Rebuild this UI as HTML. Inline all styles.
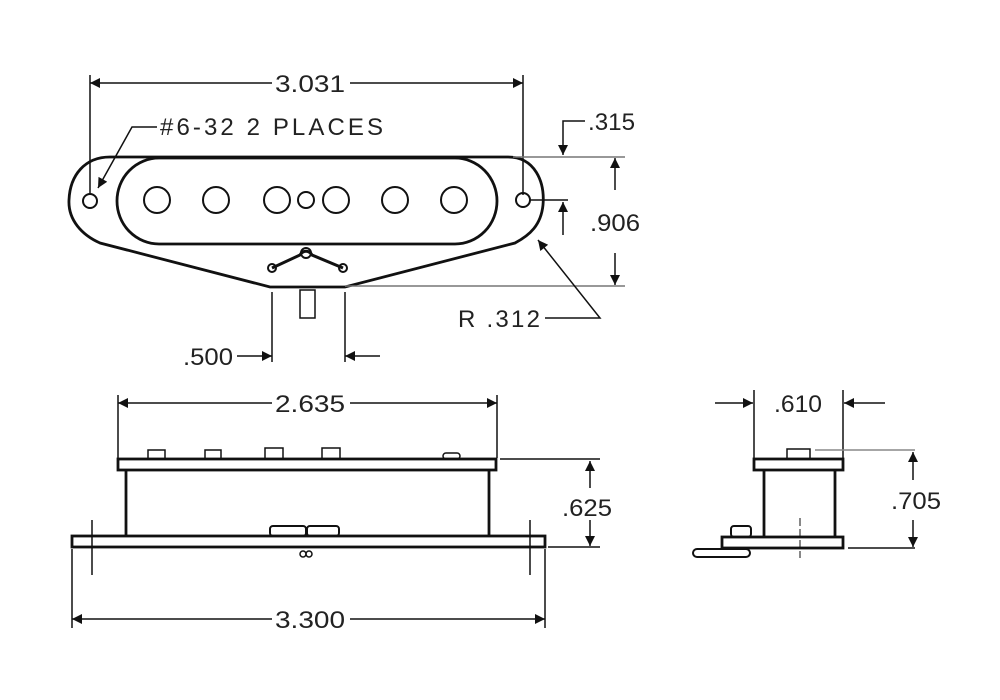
<!DOCTYPE html>
<html><head><style>
html,body{margin:0;padding:0;background:#fff;}
svg{display:block;}
text{font-family:"Liberation Sans",sans-serif;font-size:24px;fill:#222;}
</style></head><body>
<svg width="1000" height="700" viewBox="0 0 1000 700" xmlns="http://www.w3.org/2000/svg">
<defs>
<marker id="b" viewBox="0 0 10 10" refX="10" refY="5" markerWidth="26" markerHeight="10" markerUnits="userSpaceOnUse" orient="auto"><path d="M0,0 L10,5 L0,10 Z" fill="#111"/></marker>
</defs>
<g stroke="#111" fill="none" stroke-width="2">
<!-- TOP VIEW -->
<path d="M110,157 L508,157 C535,157 545,182 543,205 C541,225 530,235 515,243 L345,287 L270,287 L100,243 C82,235 68,220 69,200 C70,175 85,157 110,157 Z" stroke-width="2.8"/>
<rect x="117" y="158" width="380" height="86" rx="42" ry="43" stroke-width="2.8"/>
<circle cx="157" cy="200" r="13"/><circle cx="216" cy="200" r="13"/><circle cx="277" cy="200" r="13"/>
<circle cx="306" cy="200" r="8"/><circle cx="336" cy="200" r="13"/><circle cx="395" cy="200" r="13"/><circle cx="454" cy="200" r="13"/>
<circle cx="90" cy="201" r="7"/><circle cx="523" cy="200" r="7"/>
<path d="M272,268 L300,255 C303,250 309,250 312,255 L343,268" stroke-width="3"/>
<circle cx="306" cy="253" r="5"/><circle cx="272" cy="268" r="4"/><circle cx="343" cy="268" r="4"/>
<rect x="300" y="290" width="15" height="28" stroke-width="1.5"/>
<line x1="90" y1="75" x2="90" y2="195" stroke-width="1.5"/>
<line x1="523" y1="75" x2="523" y2="195" stroke-width="1.5"/>
<line x1="272" y1="83" x2="90" y2="83" stroke-width="1.5" marker-end="url(#b)"/>
<line x1="350" y1="83" x2="523" y2="83" stroke-width="1.5" marker-end="url(#b)"/>
<polyline points="157,127 132,127 98,188" stroke-width="1.5" marker-end="url(#b)"/>
<line x1="513" y1="157" x2="625" y2="157" stroke="#777" stroke-width="1.5"/>
<line x1="530" y1="200" x2="568" y2="200" stroke-width="1.5"/>
<line x1="345" y1="286" x2="625" y2="286" stroke="#777" stroke-width="1.5"/>
<polyline points="585,121 563,121 563,155" stroke-width="1.5" marker-end="url(#b)"/>
<line x1="615" y1="190" x2="615" y2="158" stroke-width="1.5" marker-end="url(#b)"/>
<line x1="615" y1="253" x2="615" y2="285" stroke-width="1.5" marker-end="url(#b)"/>
<line x1="563" y1="235" x2="563" y2="202" stroke-width="1.5" marker-end="url(#b)"/>
<polyline points="545,318 600,318 538,240" stroke-width="1.5" marker-end="url(#b)"/>
<line x1="272" y1="292" x2="272" y2="362" stroke-width="1.5"/>
<line x1="345" y1="292" x2="345" y2="362" stroke-width="1.5"/>
<line x1="237" y1="356" x2="272" y2="356" stroke-width="1.5" marker-end="url(#b)"/>
<line x1="380" y1="356" x2="345" y2="356" stroke-width="1.5" marker-end="url(#b)"/>

<!-- FRONT VIEW -->
<line x1="118" y1="395" x2="118" y2="458" stroke-width="1.5"/>
<line x1="497" y1="395" x2="497" y2="458" stroke-width="1.5"/>
<line x1="272" y1="403" x2="118" y2="403" stroke-width="1.5" marker-end="url(#b)"/>
<line x1="350" y1="403" x2="497" y2="403" stroke-width="1.5" marker-end="url(#b)"/>
<rect x="118" y="459" width="378" height="11" stroke-width="2.8"/>
<rect x="148" y="450" width="17" height="9" stroke-width="1.5"/>
<rect x="205" y="450" width="16" height="9" stroke-width="1.5"/>
<rect x="265" y="448" width="18" height="11" stroke-width="1.5"/>
<rect x="322" y="448" width="18" height="11" stroke-width="1.5"/>
<rect x="443" y="453" width="17" height="6" rx="3" stroke-width="1.5"/>
<line x1="126" y1="470" x2="126" y2="536" stroke-width="2.8"/>
<line x1="489" y1="470" x2="489" y2="536" stroke-width="2.8"/>
<rect x="72" y="536" width="473" height="11" stroke-width="2.8"/>
<rect x="270" y="526" width="36" height="10" rx="3" stroke-width="2"/>
<rect x="307" y="526" width="32" height="10" rx="3" stroke-width="2"/>
<circle cx="303" cy="554" r="3" stroke-width="1.5"/><circle cx="309" cy="554" r="3" stroke-width="1.5"/>
<line x1="92" y1="520" x2="92" y2="575" stroke-width="1.5"/>
<line x1="530" y1="520" x2="530" y2="575" stroke-width="1.5"/>
<line x1="500" y1="459" x2="600" y2="459" stroke-width="1.5"/>
<line x1="548" y1="547" x2="600" y2="547" stroke-width="1.5"/>
<line x1="590" y1="488" x2="590" y2="461" stroke-width="1.5" marker-end="url(#b)"/>
<line x1="590" y1="520" x2="590" y2="546" stroke-width="1.5" marker-end="url(#b)"/>
<line x1="72" y1="549" x2="72" y2="628" stroke-width="1.5"/>
<line x1="545" y1="549" x2="545" y2="628" stroke-width="1.5"/>
<line x1="272" y1="619" x2="72" y2="619" stroke-width="1.5" marker-end="url(#b)"/>
<line x1="350" y1="619" x2="545" y2="619" stroke-width="1.5" marker-end="url(#b)"/>

<!-- SIDE VIEW -->
<line x1="754" y1="390" x2="754" y2="458" stroke-width="1.5"/>
<line x1="843" y1="390" x2="843" y2="458" stroke-width="1.5"/>
<line x1="715" y1="403" x2="753" y2="403" stroke-width="1.5" marker-end="url(#b)"/>
<line x1="885" y1="403" x2="844" y2="403" stroke-width="1.5" marker-end="url(#b)"/>
<rect x="754" y="459" width="89" height="11" stroke-width="2.8"/>
<rect x="787" y="449" width="23" height="10" stroke-width="1.5"/>
<line x1="764" y1="470" x2="764" y2="537" stroke-width="2.8"/>
<line x1="835" y1="470" x2="835" y2="537" stroke-width="2.8"/>
<rect x="722" y="537" width="121" height="11" stroke-width="2.8"/>
<rect x="731" y="526" width="20" height="11" rx="3" stroke-width="2"/>
<rect x="693" y="549" width="57" height="8" rx="4" stroke-width="2"/>
<line x1="800" y1="518" x2="800" y2="558" stroke-width="1" stroke-dasharray="8,3"/>
<line x1="815" y1="450" x2="915" y2="450" stroke="#888" stroke-width="1.5"/>
<line x1="848" y1="548" x2="915" y2="548" stroke-width="1.5"/>
<line x1="913" y1="480" x2="913" y2="452" stroke-width="1.5" marker-end="url(#b)"/>
<line x1="913" y1="520" x2="913" y2="547" stroke-width="1.5" marker-end="url(#b)"/>
</g>
<text x="275" y="92" textLength="70" lengthAdjust="spacingAndGlyphs">3.031</text>
<text x="160" y="135" textLength="223" lengthAdjust="spacing">#6-32  2  PLACES</text>
<text x="588" y="130" textLength="47" lengthAdjust="spacingAndGlyphs">.315</text>
<text x="590" y="231" textLength="50" lengthAdjust="spacingAndGlyphs">.906</text>
<text x="458" y="327" textLength="82" lengthAdjust="spacing">R  .312</text>
<text x="183" y="365" textLength="50" lengthAdjust="spacingAndGlyphs">.500</text>
<text x="275" y="412" textLength="70" lengthAdjust="spacingAndGlyphs">2.635</text>
<text x="562" y="516" textLength="50" lengthAdjust="spacingAndGlyphs">.625</text>
<text x="275" y="628" textLength="70" lengthAdjust="spacingAndGlyphs">3.300</text>
<text x="774" y="412" textLength="48" lengthAdjust="spacingAndGlyphs">.610</text>
<text x="891" y="509" textLength="50" lengthAdjust="spacingAndGlyphs">.705</text>
</svg>
</body></html>
